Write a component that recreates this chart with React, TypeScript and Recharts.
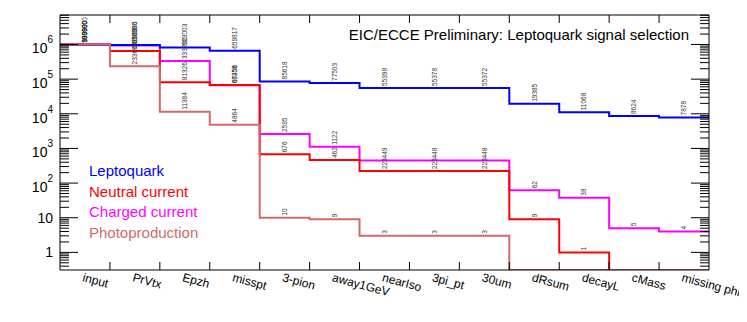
import { ComposedChart, Line, Scatter, XAxis, YAxis } from "recharts";

const categories = [
  "input", "PrVtx", "Epzh", "misspt", "3-pion", "away1GeV", "nearIso",
  "3pi_pt", "30um", "dRsum", "decayL", "cMass", "missing phi",
];

const leptoquark = [989990, 958986, 823003, 659817, 85618, 77503, 55398, 55378, 55372, 19385, 11068, 8624, 7878];
const neutralCurrent = [999800, 645000, 81326, 67456, 676, 462, 223, 223, 223, 9, 1, 0, 0];
const chargedCurrent = [999900, 930000, 333200, 66258, 2595, 1122, 449, 448, 448, 62, 38, 5, 4];
const photoproduction = [1000000, 233600, 11384, 4864, 10, 9, 3, 3, 3, 0, 0, 0, 0];

const seriesNames = ["Leptoquark", "Neutral current", "Charged current", "Photoproduction"];
const seriesColors = ["#0000ff", "#ff0000", "#ff00ff", "#d26a6a"];
const seriesKeys = ["lq", "nc", "cc", "ph"];
const seriesValues = [leptoquark, neutralCurrent, chargedCurrent, photoproduction];

const Y_MIN = 0.31;
const Y_MAX = 7.1e6;
const font = '"Liberation Sans", Arial, Helvetica, sans-serif';

// zero bins sit on the bottom of the log axis, like ROOT does
const floor = (v: number) => Math.max(v, Y_MIN);

const nBins = categories.length;

// step table: one row per bin edge, last row repeats the last bin
const steps = Array.from({ length: nBins + 1 }, (_, i) => {
  const row: any = { x: i };
  seriesKeys.forEach((k, s) => {
    row[k] = floor(seriesValues[s][Math.min(i, nBins - 1)]);
  });
  return row;
});

const labelData = seriesValues.map((vals) =>
  vals.map((v, i) => ({ x: i + 0.5, y: floor(v), v }))
);

const edgeTicks = Array.from({ length: nBins - 1 }, (_, i) => i + 1);
const bottomTicks = [
  ...edgeTicks,
  ...categories.map((_, i) => i + 0.5),
].sort((a, b) => a - b);

const yTicks: number[] = [];
for (let e = -1; e <= 6; e++) {
  for (let m = 1; m <= 9; m++) {
    const v = m * Math.pow(10, e);
    if (v >= Y_MIN && v <= Y_MAX) yTicks.push(v);
  }
}

const isMajor = (v: number) => {
  const l = Math.log10(v);
  return Math.abs(l - Math.round(l)) < 1e-6;
};

function BottomTick(props: any) {
  const { x, y, payload } = props;
  const v = payload.value;
  if (Number.isInteger(v)) {
    return <line x1={x} x2={x} y1={y} y2={y - 8} stroke="#000" />;
  }
  const name = categories[Math.floor(v)];
  const tx = x - 3;
  const ty = y + 11;
  return (
    <text x={tx} y={ty} transform={`rotate(15, ${tx}, ${ty})`} fontSize={12} fontFamily={font} fill="#000">
      {name}
    </text>
  );
}

function TopTick(props: any) {
  const { x, y } = props;
  return <line x1={x} x2={x} y1={y} y2={y + 8} stroke="#000" />;
}

function LeftTick(props: any) {
  const { x, y, payload } = props;
  const v = payload.value;
  const major = isMajor(v);
  const e = Math.round(Math.log10(v));
  let label = null;
  if (major && e === 0) {
    label = <text x={x - 7} y={y + 5} textAnchor="end" fontSize={14} fontFamily={font} fill="#000">1</text>;
  } else if (major && e === 1) {
    label = <text x={x - 7} y={y + 5} textAnchor="end" fontSize={14} fontFamily={font} fill="#000">10</text>;
  } else if (major && e > 1) {
    label = (
      <text x={x - 7} y={y + 9} textAnchor="end" fontSize={14} fontFamily={font} fill="#000">
        10<tspan dy={-10} fontSize={10}>{e}</tspan>
      </text>
    );
  }
  return (
    <g>
      <line x1={x} x2={x + (major ? 18 : 9)} y1={y} y2={y} stroke="#000" />
      {label}
    </g>
  );
}

function RightTick(props: any) {
  const { x, y, payload } = props;
  const major = isMajor(payload.value);
  return <line x1={x} x2={x - (major ? 18 : 9)} y1={y} y2={y} stroke="#000" />;
}

function ValueLabel(props: any) {
  const { cx, cy, payload } = props;
  if (!payload || payload.v <= 0) return <g />;
  const tx = cx + 2.3;
  const ty = cy - 2;
  return (
    <text x={tx} y={ty} transform={`rotate(-90, ${tx}, ${ty})`} fontSize={6.5} fontFamily={font} fill="#333">
      {payload.v}
    </text>
  );
}

export default function App() {
  return (
    <div style={{ position: "relative", width: 739, height: 306, fontFamily: font }}>
      <ComposedChart width={739} height={306} data={steps} margin={{ top: 0, right: 0, bottom: 0, left: 0 }}>
        <XAxis
          dataKey="x"
          type="number"
          domain={[0, nBins]}
          ticks={bottomTicks}
          interval={0}
          height={44}
          tickLine={false}
          tickSize={0}
          tickMargin={0}
          axisLine={{ stroke: "#000" }}
          tick={(p: any) => <BottomTick {...p} />}
          allowDataOverflow
        />
        <XAxis
          xAxisId="top"
          orientation="top"
          type="number"
          domain={[0, nBins]}
          ticks={edgeTicks}
          interval={0}
          height={7}
          tickLine={false}
          tickSize={0}
          tickMargin={0}
          axisLine={{ stroke: "#000" }}
          tick={(p: any) => <TopTick {...p} />}
          allowDataOverflow
        />
        <YAxis
          type="number"
          scale="log"
          domain={[Y_MIN, Y_MAX]}
          ticks={yTicks}
          interval={0}
          width={52}
          tickLine={false}
          tickSize={0}
          tickMargin={0}
          axisLine={{ stroke: "#000" }}
          tick={(p: any) => <LeftTick {...p} />}
          allowDataOverflow
        />
        <YAxis
          yAxisId="right"
          orientation="right"
          type="number"
          scale="log"
          domain={[Y_MIN, Y_MAX]}
          ticks={yTicks}
          interval={0}
          width={38}
          tickLine={false}
          tickSize={0}
          tickMargin={0}
          axisLine={{ stroke: "#000" }}
          tick={(p: any) => <RightTick {...p} />}
          allowDataOverflow
        />
        {[2, 1, 0, 3].map((s) => (
          <Line
            key={seriesKeys[s]}
            type="stepAfter"
            dataKey={seriesKeys[s]}
            stroke={seriesColors[s]}
            strokeWidth={2}
            dot={false}
            activeDot={false}
            isAnimationActive={false}
          />
        ))}
        {labelData.map((d, s) => (
          <Scatter
            key={"lbl" + s}
            data={d}
            dataKey="y"
            isAnimationActive={false}
            shape={(p: any) => <ValueLabel {...p} />}
          />
        ))}
      </ComposedChart>
      <div
        style={{
          position: "absolute",
          right: 58,
          top: 19,
          fontSize: 15,
          lineHeight: "16px",
          color: "#000",
          whiteSpace: "nowrap",
        }}
      >
        EIC/ECCE Preliminary: Leptoquark signal selection
      </div>
      <div style={{ position: "absolute", left: 81, top: 153, fontSize: 15 }}>
        {seriesNames.map((n, s) => (
          <div key={n} style={{ color: seriesColors[s], height: 20.7, lineHeight: "20.7px", whiteSpace: "nowrap" }}>
            {n}
          </div>
        ))}
      </div>
    </div>
  );
}
